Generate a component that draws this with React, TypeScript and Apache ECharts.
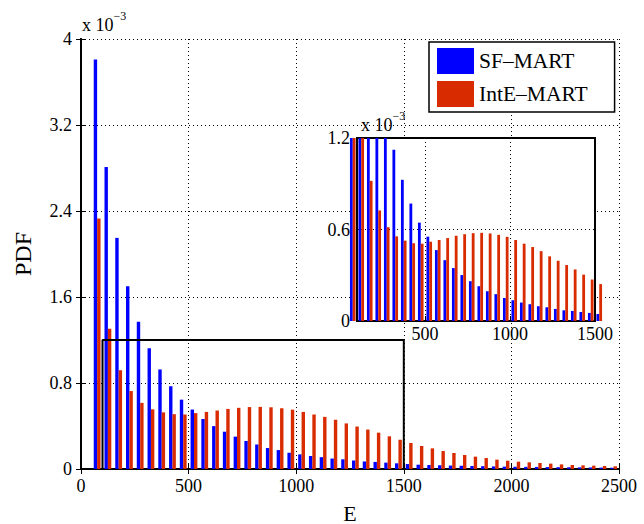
import React, { useEffect, useRef } from "react";
import * as echarts from "echarts";

// Bin centres of the energy histogram (E)
const bins = [
  75, 125, 175, 225, 275, 325, 375, 425, 475, 525, 575, 625, 675, 725, 775, 825, 875, 925, 975,
  1025, 1075, 1125, 1175, 1225, 1275, 1325, 1375, 1425, 1475, 1525, 1575, 1625, 1675, 1725, 1775,
  1825, 1875, 1925, 1975, 2025, 2075, 2125, 2175, 2225, 2275, 2325, 2375, 2425, 2475,
];

// PDF values, in units of 1e-3
const sfMart = [
  3.81, 2.81, 2.15, 1.7, 1.37, 1.123, 0.926, 0.77, 0.645, 0.553, 0.465, 0.399, 0.347, 0.301, 0.261,
  0.228, 0.195, 0.176, 0.151, 0.136, 0.121, 0.11, 0.097, 0.09, 0.079, 0.07, 0.066, 0.059, 0.053,
  0.046, 0.04, 0.037, 0.035, 0.032, 0.03, 0.028, 0.026, 0.024, 0.022, 0.021, 0.02, 0.019, 0.018,
  0.017, 0.016, 0.015, 0.014, 0.013, 0.012,
];
const inteMart = [
  2.33, 1.305, 0.919, 0.725, 0.615, 0.555, 0.527, 0.51, 0.507, 0.52, 0.531, 0.544, 0.559, 0.569,
  0.576, 0.578, 0.574, 0.565, 0.552, 0.531, 0.507, 0.485, 0.458, 0.424, 0.395, 0.367, 0.338, 0.304,
  0.272, 0.242, 0.214, 0.192, 0.167, 0.149, 0.13, 0.115, 0.102, 0.087, 0.077, 0.068, 0.062, 0.056,
  0.05, 0.043, 0.037, 0.034, 0.031, 0.028, 0.025,
];

const seriesNames = ["SF\u2013MART", "IntE\u2013MART"];
const seriesColors = ["#0000FF", "#D92B00"];

// Main axes
const mainX = { min: 0, max: 2500, interval: 500 };
const mainY = { min: 0, max: 4, interval: 0.8 };
// Inset (zoomed) axes
const insetX = { min: 100, max: 1500, step: 500 };
const insetY = { min: 0, max: 1.2, interval: 0.6 };

const FONT = "'Liberation Serif', 'Times New Roman', serif";

const plain = (v: number) => String(Math.round(v * 1000) / 1000);

export default function App() {
  const ref = useRef<HTMLDivElement>(null);

  useEffect(() => {
    if (!ref.current) return;
    const chart = echarts.init(ref.current, null, { renderer: "svg" });

    const blueData = bins.map((b, i) => [b, sfMart[i]]);
    const redData = bins.map((b, i) => [b, inteMart[i]]);
    const boxData = [
      [insetX.min, insetY.min],
      [insetX.min, insetY.max],
      [insetX.max, insetY.max],
      [insetX.max, insetY.min],
    ];

    const dotted = { show: true, lineStyle: { color: "#000", type: [1, 3], width: 1 } };
    const label = { color: "#000", fontFamily: FONT, fontSize: 18, formatter: plain };
    const axisLine = { show: true, lineStyle: { color: "#000", width: 2 } };
    const tickIn = { show: true, inside: true, length: 5, lineStyle: { color: "#000", width: 1 } };
    const supText = {
      text: "{b|x 10}{s|\u22123}",
      fill: "#000",
      rich: {
        b: { fontFamily: FONT, fontSize: 18, lineHeight: 24, verticalAlign: "bottom", fill: "#000" },
        s: { fontFamily: FONT, fontSize: 12, lineHeight: 12, verticalAlign: "top", fill: "#000" },
      },
    };

    const option: any = {
      animation: false,
      backgroundColor: "#fff",
      textStyle: { fontFamily: FONT },
      grid: [
        { left: 81, top: 39, width: 538, height: 430, show: false, outerBoundsMode: "none", containLabel: false },
        {
          left: 357,
          top: 138,
          width: 238,
          height: 183,
          show: true,
          backgroundColor: "#fff",
          borderColor: "#000",
          borderWidth: 2,
          outerBoundsMode: "none",
          containLabel: false,
          z: 5,
        },
      ],
      legend: {
        orient: "vertical",
        left: 429,
        top: 42,
        data: seriesNames,
        icon: "rect",
        itemWidth: 37,
        itemHeight: 26,
        itemGap: 7,
        padding: [6, 27, 5, 8],
        backgroundColor: "#fff",
        borderColor: "#000",
        borderWidth: 1.5,
        textStyle: { fontFamily: FONT, fontSize: 21.5, color: "#000" },
        selectedMode: false,
        z: 10,
      },
      xAxis: [
        {
          type: "value",
          gridIndex: 0,
          position: "bottom",
          min: mainX.min,
          max: mainX.max,
          interval: mainX.interval,
          name: "E",
          nameLocation: "middle",
          nameGap: 33,
          nameTextStyle: { color: "#000", fontFamily: FONT, fontSize: 22 },
          axisLine,
          axisTick: tickIn,
          axisLabel: { ...label, margin: 8 },
          splitLine: dotted,
        },
        {
          type: "value",
          gridIndex: 0,
          position: "top",
          min: mainX.min,
          max: mainX.max,
          interval: mainX.interval,
          axisLine,
          axisTick: tickIn,
          axisLabel: { show: false },
          splitLine: { show: false },
        },
        {
          type: "value",
          gridIndex: 1,
          position: "bottom",
          min: insetX.min,
          max: insetX.max,
          splitNumber: 3,
          minInterval: insetX.step,
          maxInterval: insetX.step,
          z: 6,
          axisLine: { show: false },
          axisTick: tickIn,
          axisLabel: { ...label, margin: 4, showMinLabel: false },
          splitLine: dotted,
        },
      ],
      yAxis: [
        {
          type: "value",
          gridIndex: 0,
          position: "left",
          min: mainY.min,
          max: mainY.max,
          interval: mainY.interval,
          name: "PDF",
          nameLocation: "middle",
          nameGap: 46,
          nameTextStyle: { color: "#000", fontFamily: FONT, fontSize: 24 },
          axisLine,
          axisTick: tickIn,
          axisLabel: { ...label, margin: 9 },
          splitLine: dotted,
        },
        {
          type: "value",
          gridIndex: 0,
          position: "right",
          min: mainY.min,
          max: mainY.max,
          interval: mainY.interval,
          axisLine,
          axisTick: tickIn,
          axisLabel: { show: false },
          splitLine: { show: false },
        },
        {
          type: "value",
          gridIndex: 1,
          position: "left",
          min: insetY.min,
          max: insetY.max,
          interval: insetY.interval,
          z: 6,
          axisLine: { show: false },
          axisTick: tickIn,
          axisLabel: { ...label, margin: 7 },
          splitLine: dotted,
        },
      ],
      graphic: [
        { type: "text", left: 82, top: 10, z: 10, style: supText },
        { type: "text", left: 361, top: 110, z: 10, style: supText },
      ],
      series: [
        {
          type: "bar",
          name: seriesNames[0],
          xAxisIndex: 0,
          yAxisIndex: 0,
          data: blueData,
          barWidth: 3.4,
          barGap: "0%",
          itemStyle: { color: seriesColors[0] },
          silent: true,
        },
        {
          type: "bar",
          name: seriesNames[1],
          xAxisIndex: 0,
          yAxisIndex: 0,
          data: redData,
          barWidth: 3.4,
          barGap: "0%",
          itemStyle: { color: seriesColors[1] },
          silent: true,
        },
        {
          type: "line",
          xAxisIndex: 0,
          yAxisIndex: 0,
          data: boxData,
          symbol: "none",
          lineStyle: { color: "#000", width: 2 },
          z: 4,
          silent: true,
        },
        {
          type: "bar",
          name: seriesNames[0],
          xAxisIndex: 2,
          yAxisIndex: 2,
          data: blueData,
          barWidth: 2.8,
          barGap: "0%",
          clip: true,
          z: 7,
          itemStyle: { color: seriesColors[0] },
          silent: true,
        },
        {
          type: "bar",
          name: seriesNames[1],
          xAxisIndex: 2,
          yAxisIndex: 2,
          data: redData,
          barWidth: 2.8,
          barGap: "0%",
          clip: true,
          z: 7,
          itemStyle: { color: seriesColors[1] },
          silent: true,
        },
      ],
    };

    chart.setOption(option);
    return () => chart.dispose();
  }, []);

  return (
    <div
      ref={ref}
      style={{ position: "fixed", left: 0, top: 0, width: 644, height: 524, background: "#fff" }}
    />
  );
}
